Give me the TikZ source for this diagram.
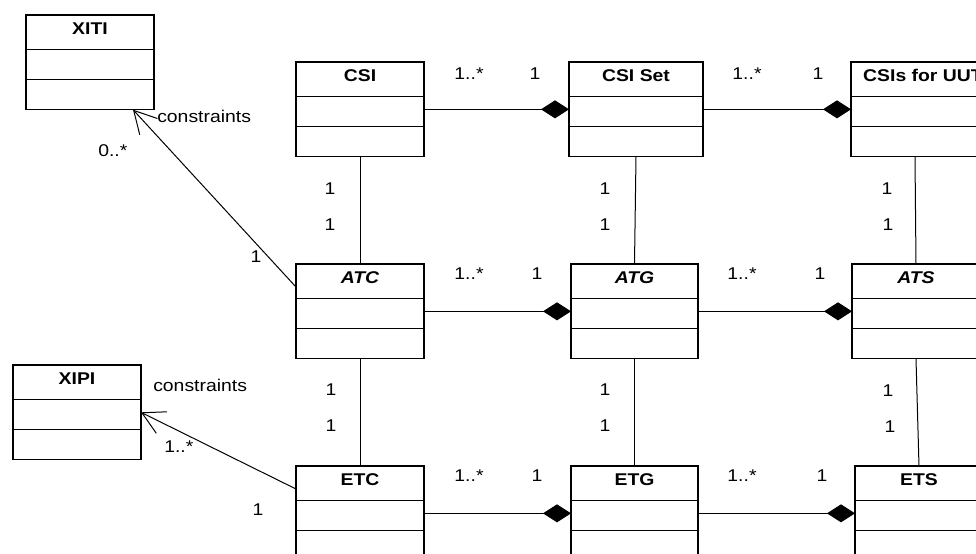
\documentclass[tikz,border=0pt]{standalone}
\usepackage{fontspec}
\setmainfont{Liberation Sans}[FakeStretch=1.14]
\usetikzlibrary{arrows.meta,calc}
\tikzset{
 classbox/.style={draw, line width=0.8pt, inner sep=0pt, outer sep=0pt, minimum height=71pt, anchor=north west},
 divider/.style={line width=0.8pt},
 classname/.style={font=\fontsize{12.75pt}{15pt}\selectfont\bfseries, anchor=base, inner sep=0pt},
 abstractname/.style={font=\fontsize{12.75pt}{15pt}\selectfont\bfseries\itshape, anchor=base, inner sep=0pt},
 lbl/.style={font=\fontsize{12.75pt}{15pt}\selectfont, anchor=base, inner sep=0pt},
 lblw/.style={lbl, anchor=base west},
 assoc/.style={line width=0.75pt},
 compos/.style={line width=0.75pt, -{Diamond[length=21pt,width=13.5pt]}},
 constr/.style={line width=0.75pt, -{Straight Barb[length=16.5pt,width=18pt]}},
}
\newcommand{\umlclass}[6][classname]{%
 \node[classbox, minimum width=#5] (#2) at (#3,#4) {};
 \draw[divider] ([yshift=-25.9pt]#2.north west) -- ([yshift=-25.9pt]#2.north east);
 \draw[divider] ([yshift=-48.4pt]#2.north west) -- ([yshift=-48.4pt]#2.north east);
 \node[#1] (#2-name) at ([yshift=-14.25pt]#2.north) {#6};
}
\begin{document}
\begin{tikzpicture}[x=0.75pt,y=-0.75pt]
\useasboundingbox (0,0) rectangle (976,554);
\clip (0,0) rectangle (976,554);
\fill[white] (0,0) rectangle (976,554);
% classes
\umlclass{XITI}{26}{15}{96pt}{XITI}
\umlclass{XIPI}{13}{365}{96pt}{XIPI}
\umlclass{CSI}{296}{62}{96pt}{CSI}
\umlclass{CSIset}{569}{62}{100.5pt}{CSI Set}
\umlclass{CSIuut}{851}{62}{108pt}{CSIs for UUT}
\umlclass[abstractname]{ATC}{296}{264}{96pt}{ATC}
\umlclass[abstractname]{ATG}{571}{264}{95.25pt}{ATG}
\umlclass[abstractname]{ATS}{852}{264}{96pt}{ATS}
\umlclass{ETC}{296}{466}{96pt}{ETC}
\umlclass{ETG}{571}{466}{95.25pt}{ETG}
\umlclass{ETS}{855}{466}{96pt}{ETS}
% compositions
\draw[compos] (CSI.east) -- (CSIset.west);
\draw[compos] (CSIset.east) -- (CSIuut.west);
\draw[compos] (ATC.east) -- (ATG.west);
\draw[compos] (ATG.east) -- (ATS.west);
\draw[compos] (ETC.east) -- (ETG.west);
\draw[compos] (ETG.east) -- (ETS.west);
% associations
\draw[assoc] (CSI.south) -- (ATC.north);
\draw[assoc] (ATC.south) -- (ETC.north);
\draw[assoc] (CSIset.south) -- (ATG.north);
\draw[assoc] (ATG.south) -- (ETG.north);
\draw[assoc] ([xshift=-6pt]CSIuut.south) -- (ATS.north);
\draw[assoc] (ATS.south) -- (ETS.north);
% constraints
\draw[constr] ($(ATC.north west)+(0,23)$) -- ($(XITI.south east)+(-21,0)$);
\draw[constr] ($(ETC.north west)+(0,23)$) -- (XIPI.east);
% multiplicities, horizontal
\node[lbl] (m1) at (469,79) {1..*};
\node[lbl] (m2) at (535,79) {1};
\node[lbl] (m3) at (747,79) {1..*};
\node[lbl] (m4) at (818,79) {1};
\node[lbl] (m5) at (469,279) {1..*};
\node[lbl] (m6) at (537,279) {1};
\node[lbl] (m7) at (742,279) {1..*};
\node[lbl] (m8) at (820,279) {1};
\node[lbl] (m9) at (469,481) {1..*};
\node[lbl] (m10) at (537,481) {1};
\node[lbl] (m11) at (742,481) {1..*};
\node[lbl] (m12) at (822,481) {1};
% multiplicities, vertical
\node[lbl] (v1) at (330,194) {1};
\node[lbl] (v2) at (330,230) {1};
\node[lbl] (v3) at (605,194) {1};
\node[lbl] (v4) at (605,230) {1};
\node[lbl] (v5) at (887,194) {1};
\node[lbl] (v6) at (888,230) {1};
\node[lbl] (v7) at (331,395) {1};
\node[lbl] (v8) at (331,431) {1};
\node[lbl] (v9) at (605,395) {1};
\node[lbl] (v10) at (605,431) {1};
\node[lbl] (v11) at (888,396) {1};
\node[lbl] (v12) at (890,432) {1};
% constraint labels
\node[lblw] (c1) at (157,122) {constraints};
\node[lblw] (c1m) at (98,156) {0..*};
\node[lbl] (c1o) at (256,262) {1};
\node[lblw] (c2) at (153,391) {constraints};
\node[lblw] (c2m) at (164,452) {1..*};
\node[lbl] (c2o) at (258,515) {1};
\end{tikzpicture}
\end{document}
